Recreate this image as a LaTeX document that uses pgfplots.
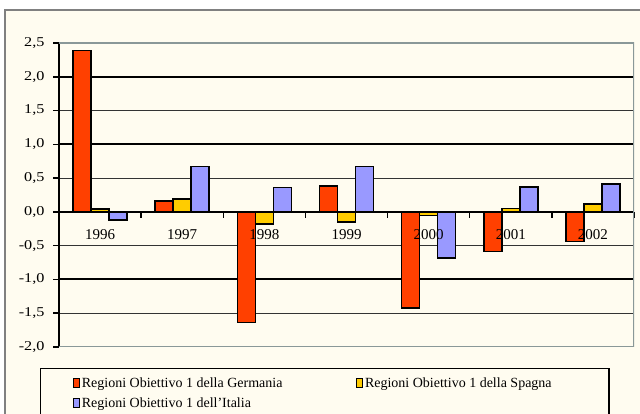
\documentclass[border=0pt]{standalone}
\usepackage{pgfplots}
\pgfplotsset{compat=1.18}
\usepackage{fontspec}
\setmainfont{Liberation Serif}
\newfontfamily\widefont[FakeStretch=1.2]{Liberation Serif}
\definecolor{cream}{HTML}{FFFCF0}
\definecolor{rosso}{HTML}{FF4000}
\definecolor{giallo}{HTML}{FFCC00}
\definecolor{blu}{HTML}{9999FF}
\definecolor{bordo}{HTML}{8A9898}
\begin{document}
\begin{tikzpicture}[x=1pt,y=1pt]
\useasboundingbox (0,0) rectangle (640,414);
\fill[white] (0,0) rectangle (640,414);
\fill[cream] (5,-5) rectangle (645,404);
\draw[gray, line width=1.2pt] (5,-5) -- (5,404) -- (645,404);
\begin{axis}[
  at={(59pt,67pt)}, anchor=south west,
  scale only axis, width=575pt, height=304pt,
  ybar=0pt, bar width=18pt,
  legend image code/.code={\draw[#1, line width=1.2pt] (0pt,-4pt) rectangle (6pt,5pt);},
  xmin=-0.5, xmax=6.5, ymin=-2, ymax=2.5,
  axis x line=middle, axis y line=left,
  axis line style={-},
  x axis line style={black, line width=2pt},
  y axis line style={black, line width=2pt},
  xtick={0.5,1.5,2.5,3.5,4.5,5.5,6.5},
  xticklabels={},
  x tick style={draw=black, line width=1.5pt},
  ytick={-2,-1.5,...,2.5},
  y tick style={black, line width=1.5pt},
  major tick length=6pt,
  tick align=outside,
  yticklabel style={font=\widefont\fontsize{13.5}{16}\selectfont, xshift=-5pt},
  /pgf/number format/.cd, fixed, fixed zerofill, precision=1, use comma, assume math mode=true,
  /pgfplots/.cd,
  ymajorgrids,
  grid style={draw=black!80, line width=1pt},
  axis background/.style={fill=cream},
  every axis plot/.append style={draw=black, line width=1.5pt},
  legend columns=2,
  legend cell align=left,
  legend style={at={(-0.033,-0.069)}, anchor=north west, draw=black, line width=1.2pt, fill=cream,
    font=\fontsize{14}{16}\selectfont, inner xsep=32pt, inner ysep=7pt, row sep=5pt},
]
\draw[black, line width=2pt] (axis cs:-0.5,2) -- (axis cs:6.5,2);
\draw[black, line width=2pt] (axis cs:-0.5,1) -- (axis cs:6.5,1);
\draw[black, line width=2pt] (axis cs:-0.5,-1) -- (axis cs:6.5,-1);
\draw[bordo, line width=1.5pt] (axis cs:-0.5,2.5) -- (axis cs:6.5,2.5) -- (axis cs:6.5,-2) -- (axis cs:-0.5,-2);
\addplot[fill=rosso] coordinates {(0,2.39) (1,0.16) (2,-1.64) (3,0.38) (4,-1.42) (5,-0.59) (6,-0.44)};
\addplot[fill=giallo] coordinates {(0,0.04) (1,0.19) (2,-0.18) (3,-0.15) (4,-0.05) (5,0.05) (6,0.12)};
\addplot[fill=blu] coordinates {(0,-0.12) (1,0.67) (2,0.36) (3,0.67) (4,-0.68) (5,0.37) (6,0.41)};
\addlegendentry{\makebox[272pt][l]{Regioni Obiettivo 1 della Germania}}
\addlegendentry{\makebox[210pt][l]{Regioni Obiettivo 1 della Spagna}}
\addlegendentry{\makebox[272pt][l]{Regioni Obiettivo 1 dell'Italia}}
\end{axis}
\begin{axis}[
  at={(59pt,67pt)}, anchor=south west,
  scale only axis, width=575pt, height=304pt,
  xmin=-0.5, xmax=6.5, ymin=-2, ymax=2.5,
  axis x line=middle, axis y line=none,
  x axis line style={draw=none, -},
  xtick={0,...,6},
  xticklabels={1996,1997,1998,1999,2000,2001,2002},
  x tick style={draw=none},
  major tick length=0pt,
  xticklabel style={anchor=north, yshift=-14pt, font=\fontsize{15}{17}\selectfont},
]
\end{axis}
\end{tikzpicture}
\end{document}
